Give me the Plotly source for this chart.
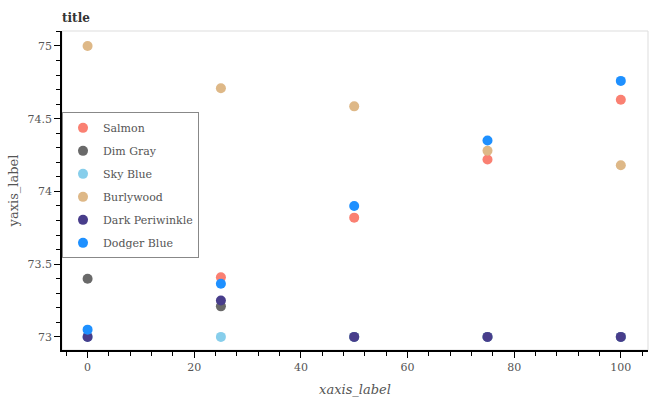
import plotly.graph_objects as go

# values
salmon_x = [25, 50, 75, 100]
salmon_y = [73.41, 73.82, 74.22, 74.63]

dim_gray_x = [0, 25, 50, 75, 100]
dim_gray_y = [73.40, 73.21, 73.0, 73.0, 73.0]

sky_blue_x = [0, 25, 50, 75, 100]
sky_blue_y = [73.0, 73.0, 73.0, 73.0, 73.0]

burlywood_x = [0, 25, 50, 75, 100]
burlywood_y = [75.0, 74.71, 74.585, 74.28, 74.18]

dark_periwinkle_x = [0, 25, 50, 75, 100]
dark_periwinkle_y = [73.0, 73.25, 73.0, 73.0, 73.0]

dodger_blue_x = [0, 25, 50, 75, 100]
dodger_blue_y = [73.05, 73.365, 73.90, 74.35, 74.76]

series = [
    ("Salmon", salmon_x, salmon_y, "#FA8072"),
    ("Dim Gray", dim_gray_x, dim_gray_y, "#696969"),
    ("Sky Blue", sky_blue_x, sky_blue_y, "#87CEEB"),
    ("Burlywood", burlywood_x, burlywood_y, "#DEB887"),
    ("Dark Periwinkle", dark_periwinkle_x, dark_periwinkle_y, "#483D8B"),
    ("Dodger Blue", dodger_blue_x, dodger_blue_y, "#1E90FF"),
]

fig = go.Figure()
for name, xs, ys, col in series:
    fig.add_trace(go.Scatter(x=xs, y=ys, mode="markers", name=name,
                             legendgroup=name,
                             marker=dict(color=col, size=10)))

font = "DejaVu Serif"
fig.update_layout(
    width=652, height=400,
    margin=dict(l=62, r=4, t=31, b=50, autoexpand=False),
    paper_bgcolor="white", plot_bgcolor="white",
    font=dict(family=font, size=11, color="#555555"),
    title=dict(text="<b>title</b>", x=0, xref="paper", xanchor="left",
               y=1 - 18 / 400, yref="container", yanchor="middle",
               font=dict(family=font, size=12, color="#333333")),
    legend=dict(x=0, y=0.745, xanchor="left", yanchor="top",
                bgcolor="white", bordercolor="#888888", borderwidth=1,
                font=dict(family=font, size=11, color="#555555"),
                traceorder="grouped", tracegroupgap=4),
    shapes=[dict(type="rect", xref="paper", yref="paper", x0=0, x1=1, y0=0, y1=1,
                 line=dict(color="#dddddd", width=1), layer="below")],
)
fig.update_xaxes(range=[-4.8, 105.1], dtick=20, tick0=0, showgrid=False, zeroline=False,
                 automargin=False,
                 showline=True, linecolor="black", linewidth=1.5,
                 ticks="outside", ticklen=6, tickcolor="black", tickwidth=1,
                 minor=dict(dtick=4, tick0=0, ticks="outside", ticklen=4, tickcolor="black",
                            showgrid=False),
                 title=dict(text="<i>xaxis_label</i>", standoff=12,
                            font=dict(family=font, size=13, color="#555555")))
fig.update_yaxes(range=[72.91, 75.103], dtick=0.5, tick0=73, showgrid=False, zeroline=False,
                 automargin=False,
                 showline=True, linecolor="black", linewidth=1.5,
                 ticks="outside", ticklen=6, tickcolor="black", tickwidth=1,
                 minor=dict(dtick=0.1, tick0=73, ticks="outside", ticklen=4, tickcolor="black",
                            showgrid=False),
                 title=dict(text="yaxis_label", standoff=6,
                            font=dict(family=font, size=13, color="#555555")))

# redraw once the local fonts are ready so text is measured with the serif face
redraw = "document.fonts.ready.then(function(){ Plotly.redraw('{plot_id}'); });"
fig.write_html("out.html", config={"displayModeBar": False}, post_script=redraw)

# the page body has a default 8px margin; drop it so the chart sits at 0,0
with open("out.html") as f:
    page = f.read()
page = page.replace("<body>", '<body style="margin:0">', 1)
with open("out.html", "w") as f:
    f.write(page)
